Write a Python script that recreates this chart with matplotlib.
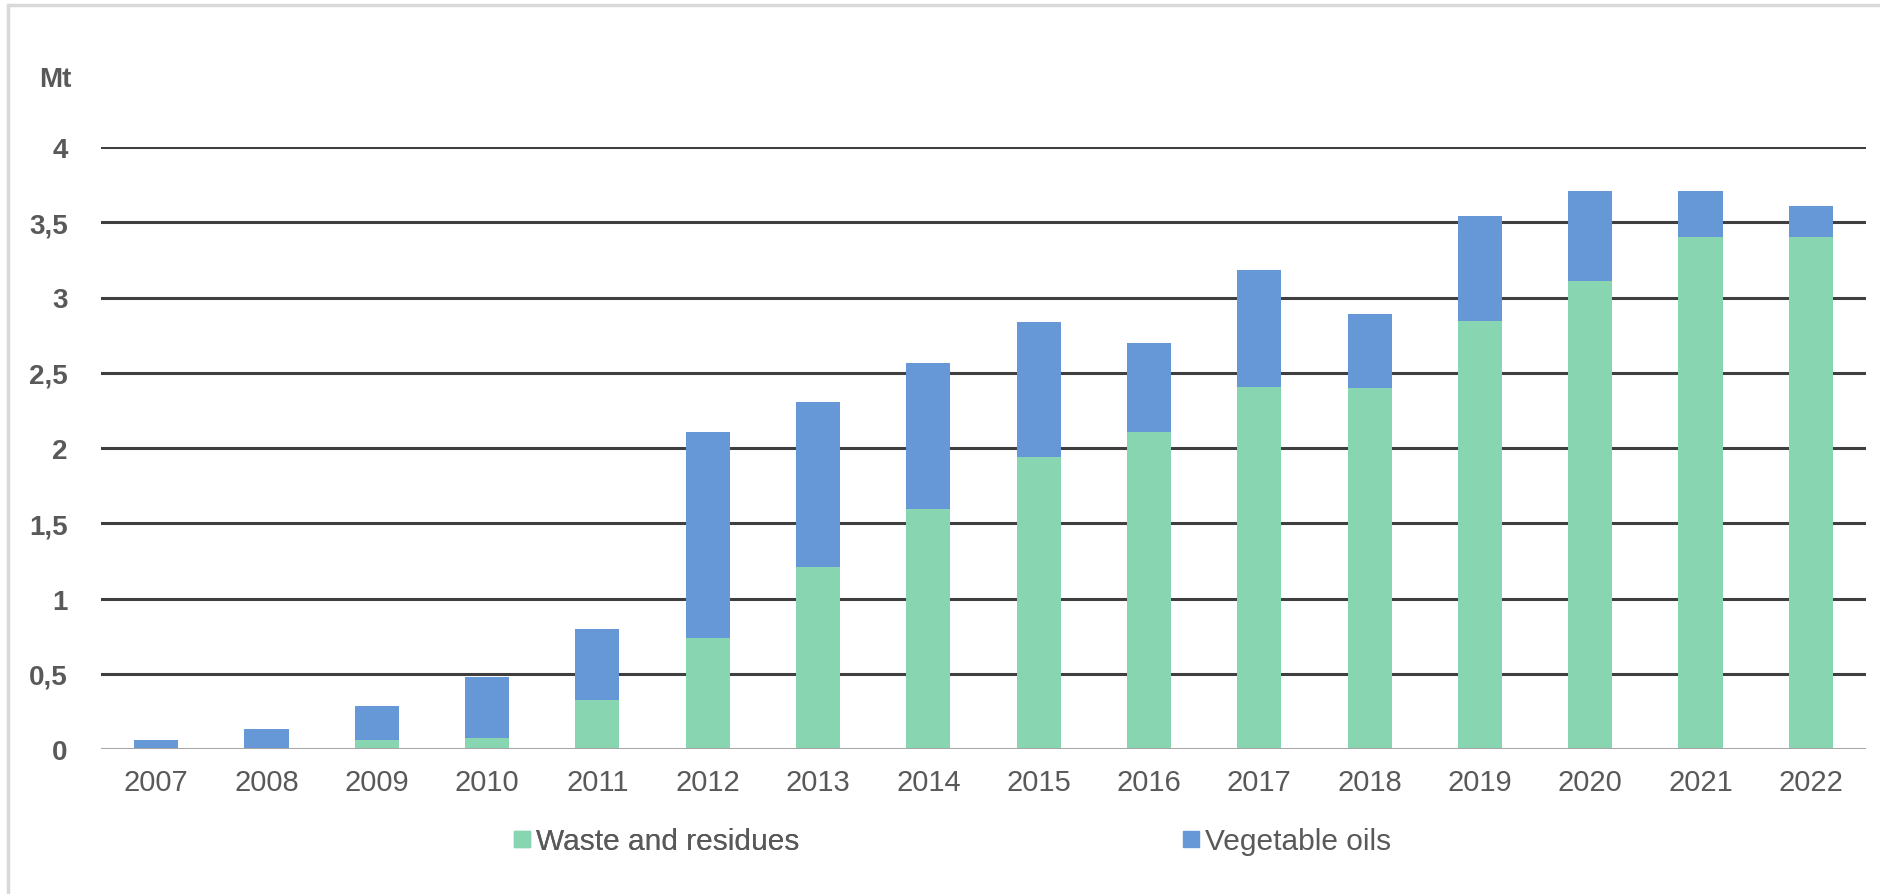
import numpy as np
import matplotlib.pyplot as plt
from matplotlib.patches import Rectangle
from matplotlib.lines import Line2D

years = ['2007', '2008', '2009', '2010', '2011', '2012', '2013', '2014',
         '2015', '2016', '2017', '2018', '2019', '2020', '2021', '2022']
waste = [0.0, 0.0, 0.06, 0.07, 0.325, 0.74, 1.21, 1.595,
         1.94, 2.105, 2.405, 2.40, 2.845, 3.11, 3.405, 3.405]
total = [0.062, 0.13, 0.285, 0.48, 0.80, 2.107, 2.307, 2.566,
         2.84, 2.695, 3.18, 2.89, 3.54, 3.705, 3.705, 3.61]
veg = [t - w for t, w in zip(total, waste)]
yticks = [0, 0.5, 1, 1.5, 2, 2.5, 3, 3.5, 4]
ytick_labels = ['0', '0,5', '1', '1,5', '2', '2,5', '3', '3,5', '4']

green = '#88d5b1'
blue = '#6698d8'
grey_txt = '#595959'

plt.rcParams['font.family'] = ['Liberation Sans', 'DejaVu Sans']

fig = plt.figure(figsize=(18.81, 8.95), dpi=100)
ax = fig.add_axes([101 / 1881, 145 / 895, 1765 / 1881, 602 / 895])

x = np.arange(len(years))
ax.bar(x, waste, width=0.4, color=green, zorder=3)
ax.bar(x, veg, width=0.4, bottom=waste, color=blue, zorder=3)

for t in yticks[1:]:
    ax.axhline(t, color='#3f3f3f', lw=2.2, zorder=1)
ax.axhline(0, color='#a6a6a6', lw=2.2, zorder=4)

ax.set_xlim(-0.5, len(years) - 0.5)
ax.set_ylim(0, 4)
ax.set_xticks(x)
ax.set_xticklabels(years, fontsize=21, color=grey_txt)
ax.set_yticks(yticks)
ax.set_yticklabels(ytick_labels, fontsize=20, color=grey_txt, fontweight='bold')
ax.tick_params(axis='both', length=0)
ax.tick_params(axis='x', pad=14)
ax.tick_params(axis='y', pad=24)
for s in ax.spines.values():
    s.set_visible(False)

fig.text(55 / 1881, 1 - 80 / 895, 'Mt', fontsize=20, fontweight='bold',
         color=grey_txt, ha='center', va='center')

handles = [Line2D([], [], marker='s', ls='none', color=green, markersize=11),
           Line2D([], [], marker='s', ls='none', color=blue, markersize=11)]
leg1 = fig.legend([handles[0]], ['Waste and residues'], loc='center left',
                  bbox_to_anchor=(515 / 1881, 1 - 842 / 895), frameon=False,
                  fontsize=21.5, handlelength=0.5, handletextpad=0.2,
                  labelcolor=grey_txt, borderaxespad=0, borderpad=0)
fig.add_artist(leg1)
fig.legend([handles[1]], ['Vegetable oils'], loc='center left',
           bbox_to_anchor=(1184 / 1881, 1 - 842 / 895), frameon=False,
           fontsize=21.5, handlelength=0.5, handletextpad=0.2,
           labelcolor=grey_txt, borderaxespad=0, borderpad=0)

# outer frame of the chart
fig.patches.append(Rectangle((8 / 1881, -0.05), 1.1, 1 - 6 / 895 + 0.05,
                             transform=fig.transFigure, fill=False,
                             edgecolor='#d9d9d9', lw=2.5))

fig.savefig('out.png', dpi=100)
